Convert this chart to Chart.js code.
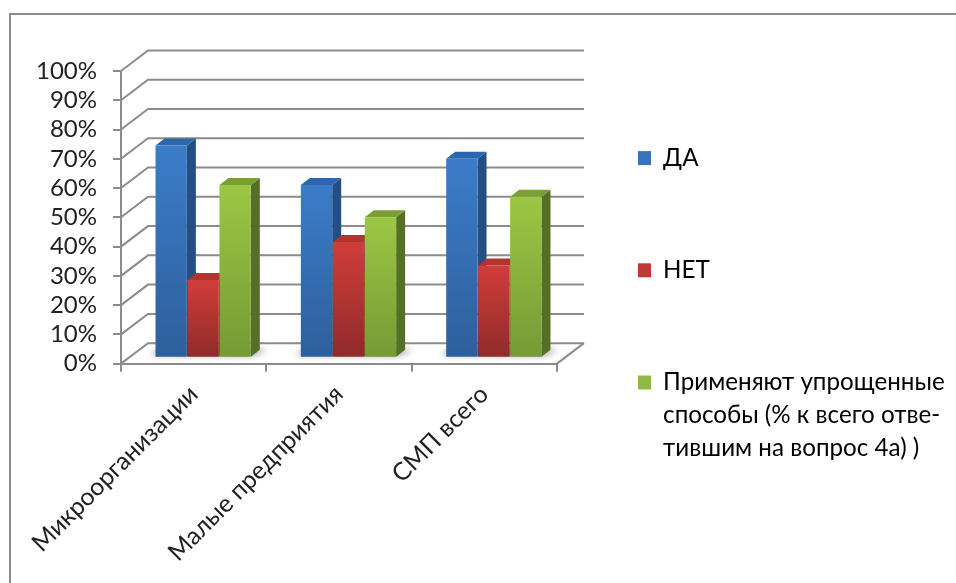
<!DOCTYPE html>
<html>
<head>
<meta charset="utf-8">
<style>
  html, body { margin: 0; padding: 0; background: #fff; }
  #wrap { position: relative; width: 956px; height: 583px; overflow: hidden; }
  #frame { position: absolute; left: 9px; top: 13px; width: 960px; height: 580px; border: 2px solid #8c8c8c; box-sizing: border-box; }
  canvas { position: absolute; left: 0; top: 0; }
</style>
<script src="https://cdn.jsdelivr.net/npm/chart.js@4"></script>
</head>
<body>
<div id="wrap">
  <div id="frame"></div>
  <canvas id="grafico" width="956" height="583"></canvas>
</div>
<script>
const categorias = ["Микроорганизации", "Малые предприятия", "СМП всего"];
const valoresDa = [72.5, 59, 68];
const valoresNet = [26.5, 39.5, 31.5];
const valoresUproshch = [59, 48, 55];
const nomeDa = "ДА";
const nomeNet = "НЕТ";
const nomeUproshch = ["Применяют упрощенные", "способы (% к всего отве-", "тившим на вопрос 4а) )"];

const fonte = "Lato, 'Open Sans', 'Noto Sans', sans-serif";
const DX = 27, DY = 20.5;         // depth of the back wall
const BAR_X = 9.5, BAR_UP = 6;    // bars stand inside the floor
const BAR_DX = 9, BAR_DY = 7;     // depth of one bar

function gradiente(topo, base) {
  return (ctx) => {
    if (!ctx.chart.chartArea || ctx.raw === undefined) return topo;
    const y = ctx.chart.scales.y;
    const g = ctx.chart.ctx.createLinearGradient(0, y.getPixelForValue(ctx.raw), 0, y.getPixelForValue(0));
    g.addColorStop(0, topo);
    g.addColorStop(1, base);
    return g;
  };
}

const cores = [
  { frente: gradiente("#3b7cc8", "#2e5f9c"), lado: "#234f82", topo: "#2d66ad", legenda: "#3a72ba" },
  { frente: gradiente("#d13d39", "#8f2b29"), lado: "#7a2422", topo: "#b3332f", legenda: "#bf3a37" },
  { frente: gradiente("#9cc744", "#769a35"), lado: "#566f28", topo: "#7c9e36", legenda: "#90b844" },
];

function desenhaFaces(chart, indice) {
  const { ctx } = chart;
  const c = cores[indice];
  chart.getDatasetMeta(indice).data.forEach((bar) => {
    const e = bar.getProps(["x", "y", "base", "width"], true);
    const dir = e.x + e.width / 2;
    const esq = e.x - e.width / 2;
    ctx.fillStyle = c.lado;
    ctx.beginPath();
    ctx.moveTo(dir, e.y);
    ctx.lineTo(dir + BAR_DX, e.y - BAR_DY);
    ctx.lineTo(dir + BAR_DX, e.base - BAR_DY);
    ctx.lineTo(dir, e.base);
    ctx.closePath();
    ctx.fill();
    ctx.fillStyle = c.topo;
    ctx.beginPath();
    ctx.moveTo(esq, e.y);
    ctx.lineTo(esq + BAR_DX, e.y - BAR_DY);
    ctx.lineTo(dir + BAR_DX, e.y - BAR_DY);
    ctx.lineTo(dir, e.y);
    ctx.closePath();
    ctx.fill();
  });
}

const parede3d = {
  id: "parede3d",
  afterLayout(chart) {
    // legend sits closer to the plot and higher than its padding alone allows
    chart.legend.left -= 7;
    chart.legend.top -= 13;
  },
  beforeDatasetsDraw(chart) {
    const { ctx, scales, chartArea } = chart;
    const y = scales.y;
    ctx.save();
    ctx.strokeStyle = "#8c8c8c";
    ctx.lineWidth = 2;
    y.ticks.forEach((t) => {
      const py = y.getPixelForValue(t.value);
      ctx.beginPath();
      ctx.moveTo(chartArea.left, py);
      ctx.lineTo(chartArea.left + DX, py - DY);
      ctx.lineTo(chartArea.right + DX, py - DY);
      ctx.stroke();
    });
    const py0 = y.getPixelForValue(0);
    ctx.beginPath();
    ctx.moveTo(chartArea.right, py0);
    ctx.lineTo(chartArea.right + DX, py0 - DY);
    ctx.stroke();
    ctx.restore();
  },
  // Chart.js paints the last dataset first; here the first one must be at the back
  beforeDatasetDraw() {
    return false;
  },
  afterDatasetsDraw(chart) {
    const { ctx } = chart;
    ctx.save();
    // bars are drawn a little in from the front edge
    ctx.translate(BAR_X, -BAR_UP);
    // soft shadow on the floor under each group
    const primeiro = chart.getDatasetMeta(0).data;
    const ultimo = chart.getDatasetMeta(2).data;
    ctx.save();
    ctx.filter = "blur(3px)";
    ctx.fillStyle = "rgba(60,60,60,0.55)";
    primeiro.forEach((bar, i) => {
      const a = bar.getProps(["x", "base", "width"], true);
      const b = ultimo[i].getProps(["x", "width"], true);
      const esq = a.x - a.width / 2;
      const dir = b.x + b.width / 2;
      ctx.beginPath();
      ctx.moveTo(esq - 5, a.base - 2);
      ctx.lineTo(esq + 3, a.base - BAR_DY);
      ctx.lineTo(dir + BAR_DX + 8, a.base - BAR_DY);
      ctx.lineTo(dir + 2, a.base - 1);
      ctx.closePath();
      ctx.fill();
    });
    ctx.restore();
    chart.data.datasets.forEach((d, i) => {
      desenhaFaces(chart, i);
      chart.getDatasetMeta(i).controller.draw();
    });
    ctx.restore();
  },
};

new Chart(document.getElementById("grafico"), {
  type: "bar",
  data: {
    labels: categorias,
    datasets: [
      { label: nomeDa, data: valoresDa, backgroundColor: cores[0].frente },
      { label: nomeNet, data: valoresNet, backgroundColor: cores[1].frente },
      { label: nomeUproshch, data: valoresUproshch, backgroundColor: cores[2].frente },
    ],
  },
  options: {
    responsive: false,
    animation: false,
    devicePixelRatio: 1,
    categoryPercentage: 0.66,
    barPercentage: 0.98,
    layout: { padding: { top: 71, left: 20, right: 0, bottom: 8 } },
    plugins: {
      tooltip: { enabled: false },
      legend: {
        position: "right",
        align: "start",
        maxWidth: 399,
        labels: {
          color: "#222",
          boxWidth: 13,
          boxHeight: 14,
          padding: 88,
          font: { family: fonte, size: 24.2, lineHeight: 1.35 },
          generateLabels(chart) {
            return chart.data.datasets.map((d, i) => ({
              text: d.label,
              fillStyle: cores[i].legenda,
              strokeStyle: cores[i].legenda,
              lineWidth: 0,
              datasetIndex: i,
            }));
          },
        },
      },
    },
    scales: {
      x: {
        grid: { drawOnChartArea: false, offset: true, color: "#8c8c8c", lineWidth: 2, tickLength: 8 },
        border: { color: "#8c8c8c", width: 2 },
        ticks: { color: "#222", maxRotation: 45, minRotation: 45, padding: 8, font: { family: fonte, size: 24.7 } },
      },
      y: {
        min: 0,
        max: 100,
        grid: { drawOnChartArea: false, color: "#8c8c8c", lineWidth: 2, tickLength: 8 },
        border: { color: "#8c8c8c", width: 2 },
        ticks: { stepSize: 10, autoSkip: false, color: "#222", padding: 16, callback: (v) => v + "%", font: { family: fonte, size: 24 } },
      },
    },
  },
  plugins: [parede3d],
});
</script>
</body>
</html>
